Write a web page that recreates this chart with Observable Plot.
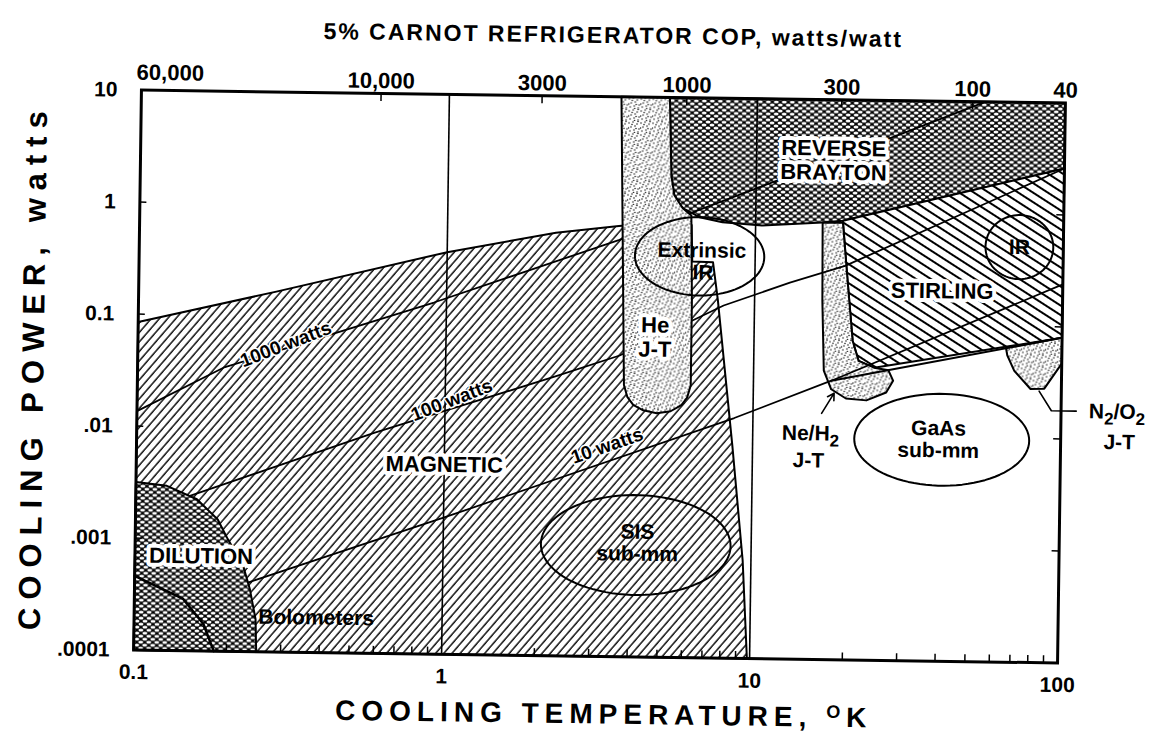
<!DOCTYPE html>
<html><head><meta charset="utf-8">
<script src="https://cdn.jsdelivr.net/npm/d3@7"></script>
<script src="https://cdn.jsdelivr.net/npm/@observablehq/plot@0.6"></script>
<style>
html,body{margin:0;padding:0;background:#fff;overflow:hidden;}
#chart{width:1162px;height:753px;}
#chart svg{transform:rotate(0.8deg);transform-origin:599px 376px;}
</style></head><body><div id="chart"></div>
<script>
// ---- axis ticks ----
const yTicks = [10, 1, 0.1, 0.01, 0.001, 0.0001];
const yTickLabels = ["10", "1", "0.1", ".01", ".001", ".0001"];
const xTicks = [0.1, 1, 10, 100];
const xTickLabels = ["0.1", "1", "10", "100"];
const copTemps = [0.1, 0.6, 2.0, 5.9, 18.8, 50, 100];
const copLabels = ["60,000", "10,000", "3000", "1000", "300", "100", "40"];
const gridTemps = [1, 10];
const minorTemps = [0.2,0.3,0.4,0.5,0.6,0.7,0.8,0.9,2,3,4,5,6,7,8,9,20,30,40,50,60,70,80,90];

// ---- regions [temperature K, cooling power W] ----
const magnetic = [[0.1,0.085],[0.28,0.165],[1.0,0.39],[2.25,0.60],[3.6,0.70],[4.6,0.75],[6.2,0.73],[6.25,0.345],[7.3,0.343],[7.6,0.157],[8.6,0.0079],[9.4,0.00075],[9.8,0.0001],[0.1,0.0001]];
const brayton = [[5.2,10],[100,10],[100,2.6],[19.2,0.835],[16.5,0.80],[10.5,0.74],[7.8,0.78],[6.57,0.86],[5.79,1.03],[5.43,1.34],[5.3,2.0]];
const stirling = [[19.2,0.835],[100,2.6],[100,0.08],[24.6,0.041],[21.9,0.047],[20.9,0.071],[20.0,0.244]];
const heJT = [[3.62,10],[5.2,10],[5.3,2.0],[5.43,1.34],[5.79,1.03],[6.18,0.89],[6.26,0.155],[6.26,0.027],[6.1,0.021],[5.85,0.018],[5.4,0.0158],[4.87,0.0151],[4.4,0.016],[4.08,0.0178],[3.9,0.021],[3.8,0.0267]];
const neH2 = [[16.5,0.80],[19.2,0.80],[20.0,0.244],[20.9,0.071],[21.9,0.047],[24.6,0.041],[27.4,0.039],[28.4,0.0316],[27,0.0247],[23.3,0.0209],[20,0.0216],[17.9,0.026],[16.9,0.038],[16.6,0.16]];
const n2O2 = [[65.8,0.064],[100,0.08],[100,0.047],[88,0.028],[79.4,0.0277],[70.2,0.04],[66.5,0.055]];
const dilution = [[0.1,3.16e-3],[0.126,2.95e-3],[0.158,2.26e-3],[0.185,1.5e-3],[0.2,1.0e-3],[0.224,6.0e-4],[0.237,3.6e-4],[0.248,1.95e-4],[0.25,1e-4],[0.1,1e-4]];
const bolometerArc = [[0.1,4.6e-4],[0.144,2.9e-4],[0.168,1.74e-4],[0.182,1e-4]];

// ---- constant input-power lines ----
const w1000 = [[0.1,0.0136],[0.19,0.034],[0.91,0.138],[3.6,0.525],[27.5,4.7],[55,10]];
const w100 = [[0.1,0.0017],[0.149,0.0024],[0.59,0.0093],[2.3,0.0316],[3.67,0.049],[7.94,0.141],[13,0.23],[19.6,0.33],[100,2.6]];
const w10 = [[0.1,1.8e-4],[0.237,4.2e-4],[1.0,1.66e-3],[8.7,0.014],[17.9,0.031],[100,0.24]];
const stirlingBase = [[17.9,0.031],[100,0.08]];

// ---- application ellipses: centre [K, W], half-widths [decades] ----
const extrinsicCenter = [6.6, 0.385], extrinsicRadii = [0.21, 0.35];
const sisCenter = [4.22, 0.001], sisRadii = [0.308, 0.446];
const gaasCenter = [41.1, 0.0095], gaasRadii = [0.284, 0.41];
const irCenter = [72, 0.51], irRadii = [0.11, 0.286];

// ---- labels ----
const boxLabels = ["REVERSE\nBRAYTON", "MAGNETIC", "STIRLING", "DILUTION", "He\nJ-T"];
const boxT = [17.8, 1.0, 40.6, 0.164, 4.77];
const boxP = [2.9, 0.005, 0.204, 7.1e-4, 0.0727];
const plainLabels = ["Extrinsic", "IR", "IR", "GaAs\nsub-mm", "SIS\nsub-mm", "Ne/H₂", "J-T", "N₂/O₂", "J-T", "Bolometers"];
const plainT = [6.71, 6.78, 72, 40.1, 4.27, 15.4, 15.2, 152, 155, 0.39];
const plainP = [0.436, 0.277, 0.51, 0.0096, 0.00105, 0.0105, 0.006, 0.0178, 0.0095, 2.06e-4];
const wattLabels = ["1000 watts", "100 watts", "10 watts"];
const wattT = [0.302, 1.05, 3.37];
const wattP = [0.0559, 0.0186, 0.0076];
const wattAngle = [-22, -22, -20];
const neArrow = [[16.7, 0.0158, 18.3, 0.024]];
const n2Leader = [[84.7,0.0266],[93,0.0178],[112,0.0178]];

function ellipse(c, r, n = 90) {
  const pts = [];
  for (let i = 0; i < n; i++) {
    const a = 2 * Math.PI * i / n;
    pts.push([c[0] * 10 ** (r[0] * Math.cos(a)), c[1] * 10 ** (r[1] * Math.sin(a))]);
  }
  return pts;
}
const X = d => d[0], Y = d => d[1];
const font = "'Liberation Sans', Arial, Helvetica, sans-serif";

function region(data, fill, extra = {}) {
  return Plot.line(data, {x: X, y: Y, fill, stroke: "black", strokeWidth: 2, curve: "linear-closed", ...extra});
}
function outline(data, extra = {}) {
  return Plot.line(data, {x: X, y: Y, stroke: "black", strokeWidth: 2, ...extra});
}

const chart = Plot.plot({
  width: 1162, height: 753,
  marginLeft: 137, marginRight: 101, marginTop: 96, marginBottom: 97,
  x: {type: "log", domain: [0.1, 100], axis: null},
  y: {type: "log", domain: [0.0001, 10], axis: null},
  style: {fontFamily: font, background: "white", color: "black"},
  marks: [
    region(magnetic, "url(#hatchMag)"),
    region(brayton, "url(#cross)"),
    region(stirling, "url(#hatchStir)"),
    region(neH2, "url(#stipple)"),
    region(n2O2, "url(#stipple)"),
    outline(w1000, {strokeWidth: 1.8}),
    outline(w100, {strokeWidth: 1.8}),
    outline(w10, {strokeWidth: 1.8}),
    outline(stirlingBase, {strokeWidth: 2}),
    region(dilution, "url(#cross)"),
    outline(bolometerArc, {strokeWidth: 2.5}),
    region(heJT, "url(#stipple)"),
    Plot.ruleX(gridTemps, {stroke: "black", strokeWidth: 1.6}),
    outline(ellipse(extrinsicCenter, extrinsicRadii), {curve: "linear-closed"}),
    outline(ellipse(sisCenter, sisRadii), {curve: "linear-closed"}),
    outline(ellipse(gaasCenter, gaasRadii), {curve: "linear-closed"}),
    outline(ellipse(irCenter, irRadii), {curve: "linear-closed"}),
    Plot.arrow(neArrow, {x1: d => d[0], y1: d => d[1], x2: d => d[2], y2: d => d[3], stroke: "black", strokeWidth: 1.6, headLength: 7}),
    outline(n2Leader, {strokeWidth: 1.6}),
    Plot.text(wattLabels, {x: (d, i) => wattT[i], y: (d, i) => wattP[i], rotate: (d, i) => wattAngle[i], text: d => d,
      fontSize: 19, fontWeight: "bold", fill: "black", stroke: "white", strokeWidth: 3}),
    Plot.text(boxLabels, {x: (d, i) => boxT[i], y: (d, i) => boxP[i], text: d => d, lineHeight: 1.1,
      fontSize: 22, fontWeight: "bold", fill: "black", stroke: "white", strokeWidth: 8}),
    Plot.text(plainLabels, {x: (d, i) => plainT[i], y: (d, i) => plainP[i], text: d => d, lineHeight: 1.05,
      fontSize: 21, fontWeight: "bold", fill: "black"}),
    Plot.frame({stroke: "black", strokeWidth: 3}),
    Plot.tickX(minorTemps, {x: d => d, insetTop: 553, stroke: "black", strokeWidth: 1.5}),
    Plot.tickX(copTemps.slice(1, -1), {x: d => d, insetBottom: 552, stroke: "black", strokeWidth: 1.5}),
    Plot.tickY(yTicks.slice(1, -1), {y: d => d, insetRight: 917, stroke: "black", strokeWidth: 1.5}),
    Plot.tickY(yTicks.slice(1, -1), {y: d => d, insetLeft: 917, stroke: "black", strokeWidth: 1.5}),
    Plot.text(yTicks, {y: d => d, frameAnchor: "left", text: (d, i) => yTickLabels[i], textAnchor: "end", dx: -24, fontSize: 21, fontWeight: "bold"}),
    Plot.text(xTicks, {x: d => d, frameAnchor: "bottom", text: (d, i) => xTickLabels[i], dy: 29, fontSize: 21, fontWeight: "bold"}),
    Plot.text(copTemps.slice(1), {x: d => d, frameAnchor: "top", text: (d, i) => copLabels[i + 1], dy: -21, fontSize: 22, fontWeight: "bold"}),
    Plot.text(copTemps.slice(0, 1), {x: d => d, frameAnchor: "top", text: (d, i) => copLabels[i], textAnchor: "start", dx: -5, dy: -26, fontSize: 22, fontWeight: "bold"}),
    Plot.text(["5% CARNOT REFRIGERATOR COP, watts/watt"], {frameAnchor: "top", textAnchor: "middle", dy: -70, dx: 9, fontSize: 23, fontWeight: "bold"}),
    Plot.text(["COOLING TEMPERATURE, ºK"], {frameAnchor: "bottom", textAnchor: "middle", dy: 67, dx: 9, fontSize: 28, fontWeight: "bold"}),
    Plot.text(["COOLING POWER, watts"], {frameAnchor: "left", textAnchor: "middle", dx: -104, dy: -2, rotate: -90, fontSize: 31, fontWeight: "bold"})
  ]
});
document.getElementById("chart").append(chart);

// ---- fill patterns ----
const root = d3.select(chart);
const defs = root.insert("defs", ":first-child");
const pm = defs.append("pattern").attr("id", "hatchMag").attr("patternUnits", "userSpaceOnUse")
  .attr("width", 6.2).attr("height", 20).attr("patternTransform", "rotate(40)");
pm.append("rect").attr("width", 6.2).attr("height", 20).attr("fill", "white");
pm.append("line").attr("x1", 1).attr("x2", 1).attr("y1", 0).attr("y2", 20).attr("stroke", "black").attr("stroke-width", 1.4);
const ps = defs.append("pattern").attr("id", "hatchStir").attr("patternUnits", "userSpaceOnUse")
  .attr("width", 20).attr("height", 8).attr("patternTransform", "rotate(32)");
ps.append("rect").attr("width", 20).attr("height", 8).attr("fill", "white");
ps.append("line").attr("x1", 0).attr("x2", 20).attr("y1", 4).attr("y2", 4).attr("stroke", "black").attr("stroke-width", 2);
const pc = defs.append("pattern").attr("id", "cross").attr("patternUnits", "userSpaceOnUse").attr("width", 8).attr("height", 6);
pc.append("rect").attr("width", 8).attr("height", 6).attr("fill", "black");
for (const [cx, cy] of [[4, 3], [0, 0], [8, 0], [0, 6], [8, 6]])
  pc.append("ellipse").attr("cx", cx).attr("cy", cy).attr("rx", 2.5).attr("ry", 1.5).attr("fill", "white");
const pd = defs.append("pattern").attr("id", "stipple").attr("patternUnits", "userSpaceOnUse").attr("width", 12).attr("height", 12);
pd.append("rect").attr("width", 12).attr("height", 12).attr("fill", "white");
for (const [cx, cy] of [[1,2],[5,1],[9,3],[3,6],[7,5],[11,8],[2,10],[6,9],[10,11],[4,3.5],[8,7.5],[0.5,7],[10,0.5],[6.5,11.5]])
  pd.append("circle").attr("cx", cx).attr("cy", cy).attr("r", 0.8).attr("fill", "#222");

// ---- typographic touches: subscripts, raised O, letter spacing ----
const NS = "http://www.w3.org/2000/svg";
root.selectAll("text").each(function () {
  const t = this.textContent;
  if (this.querySelector("tspan")) return;
  if (t.includes("₂")) {
    const parts = t.split("₂");
    this.textContent = "";
    parts.forEach((p, i) => {
      if (p) { const s = document.createElementNS(NS, "tspan"); s.textContent = p; if (i > 0) s.setAttribute("dy", "-6"); this.appendChild(s); }
      if (i < parts.length - 1) { const s = document.createElementNS(NS, "tspan"); s.textContent = "2"; s.setAttribute("dy", "6"); s.setAttribute("font-size", "17"); this.appendChild(s); }
    });
  } else if (t.includes("º")) {
    const [a, b] = t.split("º");
    this.textContent = a;
    const o = document.createElementNS(NS, "tspan"); o.textContent = "O"; o.setAttribute("dy", "-9"); o.setAttribute("font-size", "18"); this.appendChild(o);
    const k = document.createElementNS(NS, "tspan"); k.textContent = b; k.setAttribute("dy", "9"); this.appendChild(k);
    this.style.letterSpacing = "6px";
  } else if (t.startsWith("COOLING POWER")) {
    this.style.letterSpacing = "8px";
  } else if (t.startsWith("5% CARNOT")) {
    this.style.letterSpacing = "2px";
  }
});
</script></body></html>
